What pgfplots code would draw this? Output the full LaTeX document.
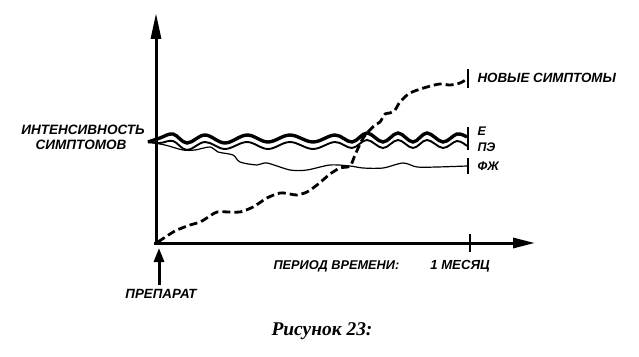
\documentclass[border=0pt]{standalone}
\usepackage{fontspec}
\setmainfont{Liberation Sans}
\newfontfamily\capfont{Liberation Serif}
\usepackage{pgfplots}
\pgfplotsset{compat=1.18}
\usetikzlibrary{arrows.meta}
\begin{document}
\begin{tikzpicture}
\begin{axis}[scale only axis, width=639bp, height=357bp,
  xmin=0, xmax=639, ymin=0, ymax=357, y dir=reverse,
  hide axis, clip=false]
\path (rel axis cs:0,0) rectangle (rel axis cs:1,1);
% axes
\addplot[black, line width=3bp, -{Triangle[length=26bp,width=10bp]}] coordinates {(156,244) (156,13)};
\addplot[black, line width=3bp, -{Triangle[length=22bp,width=10bp]}] coordinates {(154,243) (535,243)};
\addplot[black, line width=2.5bp] coordinates {(470,234) (470,252)};
% arrow below origin
\addplot[black, line width=3bp, -{Triangle[length=14bp,width=10bp]}] coordinates {(159,285) (159,248)};
% E (thick)
\addplot[black, line width=3.4bp, smooth, tension=0.6] coordinates {
(148,142)(160,138)(173,134)(187,143)(205,135)(225,143)(247,135)(268,142)(290,135)(313,142)(335,135)(352,142)(367,133)(383,142)(398,133)(413,142)(427,133)(443,142)(457,134)(467,137)};
% ПЭ
\addplot[black, line width=1.9bp, smooth, tension=0.6] coordinates {
(148,142)(160,143)(173,141)(187,150)(205,142)(225,149)(247,142)(268,149)(290,142)(313,149)(335,142)(352,148)(367,140)(383,148)(398,140)(413,148)(427,140)(443,148)(457,141)(467,146)};
% ФЖ
\addplot[black, line width=1.2bp, smooth, tension=0.5] coordinates {
(148,142)(165,145)(183,150)(195,150)(210,147)(218,152)(233,155)(240,162)(257,165)(267,163)(290,170)(307,170)(330,165)(350,166)(363,168)(383,168)(403,163)(417,167)(437,167)(467,166)};
% new symptoms (dashed)
\addplot[black, line width=2.8bp, dash pattern=on 8bp off 4bp, smooth, tension=0.5] coordinates {
(158,242)(170,234)(177,230)(190,225)(200,222)(210,216)(217,212)(230,212)(240,212)(253,207)(267,198)(280,193)(290,194)(297,195)(307,192)(317,185)(323,180)(330,174)(340,168)(350,166)(355,155)(362,140)(367,133)(375,125)(380,122)(385,114)(390,113)(395,110)(400,102)(410,93)(427,87)(440,84)(450,85)(460,83)(467,79)};
% end bars
\addplot[black, line width=2.5bp] coordinates {(468,127) (468,150)};
\addplot[black, line width=2.5bp] coordinates {(468,158) (468,174)};
\addplot[black, line width=2.5bp] coordinates {(468,69) (468,88)};
% labels
\node[font=\bfseries\itshape\fontsize{13.6}{13.6}\selectfont] at (axis cs:83,130) {ИНТЕНСИВНОСТЬ};
\node[font=\bfseries\itshape\fontsize{13.6}{13.6}\selectfont] at (axis cs:81,145) {СИМПТОМОВ};
\node[anchor=west, font=\bfseries\itshape\fontsize{13.4}{13.4}\selectfont] at (axis cs:474,78) {НОВЫЕ СИМПТОМЫ};
\node[anchor=west, font=\bfseries\itshape\fontsize{12.5}{12.5}\selectfont] at (axis cs:474,131) {Е};
\node[anchor=west, font=\bfseries\itshape\fontsize{12.5}{12.5}\selectfont] at (axis cs:474,147) {ПЭ};
\node[anchor=west, font=\bfseries\itshape\fontsize{12.5}{12.5}\selectfont] at (axis cs:474,166) {ФЖ};
\node[anchor=west, font=\bfseries\itshape\fontsize{12.8}{12.8}\selectfont] at (axis cs:270,266) {ПЕРИОД ВРЕМЕНИ:};
\node[font=\bfseries\itshape\fontsize{13.2}{13.2}\selectfont] at (axis cs:460,266) {1 МЕСЯЦ};
\node[font=\bfseries\itshape\fontsize{13.4}{13.4}\selectfont] at (axis cs:161,294) {ПРЕПАРАТ};
\node[font=\capfont\bfseries\itshape\fontsize{19.5}{19.5}\selectfont] at (axis cs:322,331) {Рисунок 23:};
\end{axis}
\end{tikzpicture}
\end{document}
